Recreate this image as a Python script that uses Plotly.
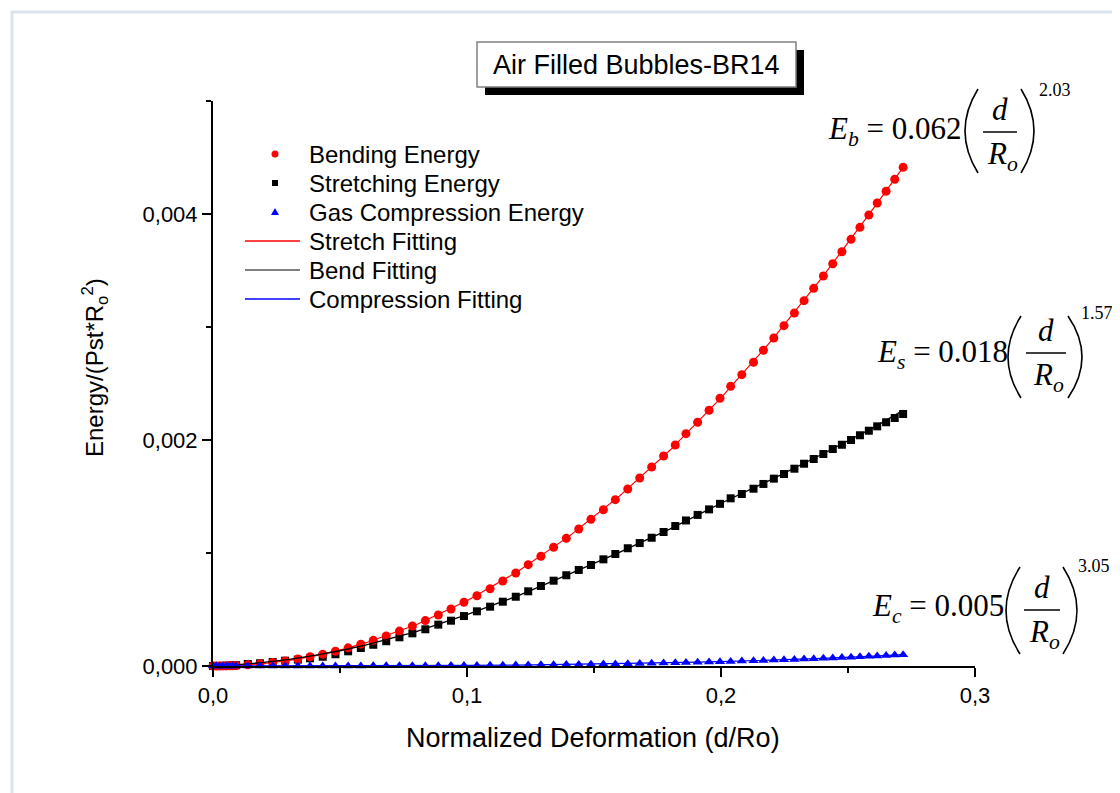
import plotly.graph_objects as go

# ---------------- data ----------------
deformation = [0.0, 0.0013, 0.0026, 0.0039, 0.0052, 0.0065, 0.0078, 0.0091,
               0.0137, 0.0185, 0.0235, 0.0284, 0.0334, 0.0382, 0.0432, 0.0482, 0.0532, 0.0582,
               0.0631, 0.0682, 0.0734, 0.0785, 0.0836, 0.0887, 0.0937,
               0.0988, 0.1039, 0.1091, 0.1141, 0.1192, 0.1241, 0.1291, 0.1341, 0.1391, 0.1440,
               0.1488, 0.1537, 0.1584, 0.1633, 0.1680, 0.1727, 0.1774,
               0.1820, 0.1862, 0.1908, 0.1953, 0.1996, 0.2038, 0.2082, 0.2128, 0.2167, 0.2208,
               0.2248, 0.2289, 0.2327, 0.2365, 0.2403, 0.2440, 0.2476, 0.2512, 0.2547, 0.2582,
               0.2615, 0.2650, 0.2684, 0.2717]

bending_energy = [0.0, 0.0, 0.0, 1e-6, 1e-6, 2e-6, 3e-6, 4e-6,
                  1.0e-5, 1.9e-5, 3.1e-5, 4.5e-5, 6.2e-5, 8.2e-5, 1.05e-4, 1.31e-4, 1.61e-4, 1.93e-4,
                  2.27e-4, 2.66e-4, 3.09e-4, 3.54e-4, 4.02e-4, 4.51e-4, 5.04e-4,
                  5.64e-4, 6.22e-4, 6.84e-4, 7.52e-4, 8.23e-4, 8.97e-4, 9.71e-4, 1.051e-3, 1.130e-3, 1.212e-3,
                  1.298e-3, 1.383e-3, 1.472e-3, 1.566e-3, 1.664e-3, 1.761e-3, 1.858e-3,
                  1.956e-3, 2.056e-3, 2.157e-3, 2.263e-3, 2.369e-3, 2.475e-3, 2.578e-3, 2.688e-3, 2.794e-3, 2.903e-3,
                  3.012e-3, 3.124e-3, 3.233e-3, 3.342e-3, 3.451e-3, 3.560e-3, 3.666e-3, 3.776e-3, 3.882e-3, 3.991e-3,
                  4.097e-3, 4.201e-3, 4.307e-3, 4.413e-3]

stretching_energy = [0.0, 0.0, 0.0, 1e-6, 2e-6, 3e-6, 5e-6, 7e-6,
                     1.8e-5, 2.4e-5, 3.5e-5, 4.7e-5, 5.6e-5, 6.8e-5, 8.2e-5, 1.04e-4, 1.30e-4, 1.59e-4,
                     1.88e-4, 2.19e-4, 2.54e-4, 2.89e-4, 3.25e-4, 3.66e-4, 4.01e-4,
                     4.42e-4, 4.84e-4, 5.25e-4, 5.69e-4, 6.13e-4, 6.61e-4, 7.08e-4, 7.55e-4, 8.03e-4, 8.50e-4,
                     8.94e-4, 9.44e-4, 9.91e-4, 1.042e-3, 1.088e-3, 1.135e-3, 1.186e-3,
                     1.239e-3, 1.288e-3, 1.337e-3, 1.386e-3, 1.435e-3, 1.484e-3, 1.522e-3, 1.569e-3, 1.611e-3, 1.658e-3,
                     1.699e-3, 1.746e-3, 1.790e-3, 1.832e-3, 1.876e-3, 1.920e-3, 1.958e-3, 2.000e-3, 2.042e-3, 2.082e-3,
                     2.121e-3, 2.157e-3, 2.195e-3, 2.230e-3]

gas_compression_energy = [0.0, 0.0, 0.0, 0.0, 0.0, 0.0, 0.0, 0.0,
                          0.0, 0.0, 1e-7, 1e-7, 2e-7, 2e-7, 3e-7, 5e-7, 7e-7, 1.0e-6,
                          1.2e-6, 1.5e-6, 1.9e-6, 2.3e-6, 2.8e-6, 3.3e-6, 3.9e-6,
                          4.6e-6, 5.3e-6, 6.1e-6, 7.0e-6, 8.0e-6, 9.0e-6, 1.01e-5, 1.13e-5, 1.26e-5, 1.40e-5,
                          1.55e-5, 1.70e-5, 1.87e-5, 2.05e-5, 2.24e-5, 2.44e-5, 2.65e-5,
                          2.87e-5, 3.08e-5, 3.32e-5, 3.57e-5, 3.82e-5, 4.07e-5, 4.35e-5, 4.66e-5, 4.93e-5, 5.22e-5,
                          5.52e-5, 5.84e-5, 6.15e-5, 6.47e-5, 6.80e-5, 7.14e-5, 7.48e-5, 7.83e-5, 8.18e-5, 8.55e-5,
                          8.90e-5, 9.28e-5, 9.67e-5, 1.005e-4]

fit_x = [0.0, 0.01, 0.02, 0.03, 0.04, 0.05, 0.06, 0.08, 0.10, 0.12, 0.14, 0.16, 0.18, 0.20, 0.22, 0.24, 0.26, 0.2717]
stretch_fit = [0.0, 5.5e-6, 2.2e-5, 5.0e-5, 9.0e-5, 1.41e-4, 2.04e-4, 3.65e-4, 5.77e-4, 8.36e-4, 1.145e-3,
               1.503e-3, 1.911e-3, 2.372e-3, 2.883e-3, 3.443e-3, 4.05e-3, 4.413e-3]
bend_fit = [0.0, 1.2e-5, 3.2e-5, 5.8e-5, 9.5e-5, 1.35e-4, 1.85e-4, 3.05e-4, 4.55e-4, 6.2e-4, 8.1e-4,
            1.006e-3, 1.214e-3, 1.44e-3, 1.652e-3, 1.876e-3, 2.11e-3, 2.262e-3]
compression_fit = [0.0, 0.0, 0.0, 0.0, 0.0, 1e-6, 1e-6, 2e-6, 5e-6, 8e-6, 1.4e-5, 2.1e-5, 3.0e-5,
                   3.9e-5, 5.1e-5, 6.7e-5, 8.7e-5, 1.005e-4]

x_ticks = [0.0, 0.1, 0.2, 0.3]
y_ticks = [0.0, 0.002, 0.004]

legend_labels = ["Bending Energy", "Stretching Energy", "Gas Compression Energy",
                 "Stretch Fitting", "Bend Fitting", "Compression Fitting"]

# ---------------- layout helpers (screen pixel -> paper) ----------------
OFF = 8                      # page body margin of the browser
W, H = 1112, 785             # figure size (reaches the 1120x793 window edge after the body margin)
L, R, T, B = 213, 975, 101, 666   # plot area in screen pixels


def px(x):
    return (x - L) / (R - L)


def py(y):
    return (B - y) / (B - T)


SANS = "Liberation Sans, Arial, sans-serif"
SERIF = "Liberation Serif, Times New Roman, serif"

RED, BLACK, BLUE = "#ff0000", "#000000", "#0000ff"

fig = go.Figure()

fig.add_trace(go.Scatter(x=deformation, y=stretching_energy, mode="markers", name=legend_labels[1],
                         marker=dict(symbol="square", size=8, color=BLACK), cliponaxis=False))
fig.add_trace(go.Scatter(x=deformation, y=bending_energy, mode="markers", name=legend_labels[0],
                         marker=dict(symbol="circle", size=9, color=RED), cliponaxis=False))
fig.add_trace(go.Scatter(x=fit_x, y=stretch_fit, mode="lines", name=legend_labels[3],
                         line=dict(color=RED, width=1.2), cliponaxis=False))
fig.add_trace(go.Scatter(x=fit_x, y=bend_fit, mode="lines", name=legend_labels[4],
                         line=dict(color=BLACK, width=1.3), cliponaxis=False))
fig.add_trace(go.Scatter(x=deformation, y=gas_compression_energy, mode="markers", name=legend_labels[2],
                         marker=dict(symbol="triangle-up", size=9, color=BLUE), cliponaxis=False))
fig.add_trace(go.Scatter(x=fit_x, y=compression_fit, mode="lines", name=legend_labels[5],
                         line=dict(color=BLUE, width=1.2), cliponaxis=False))

shapes = []
annotations = []

# page frame
shapes.append(dict(type="rect", xref="paper", yref="paper", x0=px(12), y0=py(12), x1=px(1140), y1=py(820),
                   line=dict(color="#dbe3ef", width=3), fillcolor="rgba(0,0,0,0)", layer="below"))
# title box with shadow
shapes.append(dict(type="rect", xref="paper", yref="paper", x0=px(485), y0=py(95), x1=px(804), y1=py(50),
                   line=dict(width=0), fillcolor="black"))
shapes.append(dict(type="rect", xref="paper", yref="paper", x0=px(477), y0=py(87), x1=px(796), y1=py(42),
                   line=dict(color="#808080", width=1.5), fillcolor="white"))

# ---------------- legend (drawn box-free, like the original) ----------------
leg_rows = [154, 183, 212, 241, 270, 299]
mx = 275
# circle
shapes.append(dict(type="circle", xref="paper", yref="paper", x0=px(mx - 3.5), x1=px(mx + 3.5),
                   y0=py(leg_rows[0] + 3.5), y1=py(leg_rows[0] - 3.5), fillcolor=RED, line=dict(width=0)))
# square
shapes.append(dict(type="rect", xref="paper", yref="paper", x0=px(mx - 3), x1=px(mx + 3),
                   y0=py(leg_rows[1] + 3), y1=py(leg_rows[1] - 3), fillcolor=BLACK, line=dict(width=0)))
# triangle
yt = leg_rows[2]
shapes.append(dict(type="path", xref="paper", yref="paper",
                   path="M {:.5f},{:.5f} L {:.5f},{:.5f} L {:.5f},{:.5f} Z".format(
                       px(mx - 4), py(yt + 3), px(mx + 4), py(yt + 3), px(mx), py(yt - 4)),
                   fillcolor=BLUE, line=dict(width=0)))
for row, col in zip(leg_rows[3:], [RED, "#555555", BLUE]):
    shapes.append(dict(type="line", xref="paper", yref="paper", x0=px(245), x1=px(300), y0=py(row), y1=py(row),
                       line=dict(color=col, width=1.3)))
for row, lab in zip(leg_rows, legend_labels):
    annotations.append(dict(text=lab, x=px(307), y=py(row), xref="paper", yref="paper", xanchor="left",
                            yanchor="middle", showarrow=False, font=dict(family=SANS, size=24, color="black")))


# ---------------- equations ----------------
def paren(xt, xm, yt, yb):
    cx = 2 * xm - xt
    ym = (yt + yb) / 2
    path = "M {:.5f},{:.5f} Q {:.5f},{:.5f} {:.5f},{:.5f}".format(px(xt), py(yt), px(cx), py(ym), px(xt), py(yb))
    return dict(type="path", xref="paper", yref="paper", path=path, line=dict(color="black", width=1.6))


def equation(sym, coef, exp, xl, yc, pl_top, pl_mid, pr_top, pr_mid, ptop, pbot, bar0, bar1, ybar, xexp, yexp):
    annotations.append(dict(text="<i>E</i><sub><i>" + sym + "</i></sub> = " + coef, x=px(xl), y=py(yc),
                            xref="paper", yref="paper", xanchor="left", yanchor="middle", showarrow=False,
                            font=dict(family=SERIF, size=31, color="black")))
    shapes.append(paren(pl_top, pl_mid, ptop, pbot))
    shapes.append(paren(pr_top, pr_mid, ptop, pbot))
    shapes.append(dict(type="line", xref="paper", yref="paper", x0=px(bar0), x1=px(bar1), y0=py(ybar), y1=py(ybar),
                       line=dict(color="black", width=1.3)))
    xc = (bar0 + bar1) / 2
    annotations.append(dict(text="<i>d</i>", x=px(xc), y=py(ybar - 3), xref="paper", yref="paper",
                            xanchor="center", yanchor="bottom", showarrow=False,
                            font=dict(family=SERIF, size=31, color="black")))
    annotations.append(dict(text="<i>R</i><sub><i>o</i></sub>", x=px(xc + 2), y=py(ybar + 2), xref="paper",
                            yref="paper", xanchor="center", yanchor="top", showarrow=False,
                            font=dict(family=SERIF, size=31, color="black")))
    annotations.append(dict(text=exp, x=px(xexp), y=py(yexp), xref="paper", yref="paper",
                            xanchor="center", yanchor="middle", showarrow=False,
                            font=dict(family=SERIF, size=18, color="black")))


equation("b", "0.062", "2.03", 826, 131, 978, 965, 1021, 1034, 89, 173, 983, 1017, 132, 1055, 90)
equation("s", "0.018", "1.57", 875, 354, 1021, 1008, 1068, 1082, 316, 398, 1026, 1066, 353, 1097, 313)
equation("c", "0.005", "3.05", 870, 608, 1020, 1006, 1063, 1077, 567, 654, 1024, 1060, 610, 1094, 566)

# title
annotations.append(dict(text="Air Filled Bubbles-BR14", x=px(636), y=py(65), xref="paper", yref="paper",
                        xanchor="center", yanchor="middle", showarrow=False,
                        font=dict(family=SANS, size=27, color="black")))
# axis titles
annotations.append(dict(text="Normalized Deformation (d/Ro)", x=px(593), y=py(738), xref="paper", yref="paper",
                        xanchor="center", yanchor="middle", showarrow=False,
                        font=dict(family=SANS, size=27, color="black")))
annotations.append(dict(text="Energy/(Pst*R<sub>o</sub><sup>2</sup>)", x=px(95), y=py(367), xref="paper",
                        yref="paper", xanchor="center", yanchor="middle", textangle=-90, showarrow=False,
                        font=dict(family=SANS, size=24, color="black")))

fig.update_layout(
    width=W, height=H,
    margin=dict(l=L - OFF, r=W - (R - OFF), t=T - OFF, b=H - (B - OFF), pad=0),
    paper_bgcolor="white", plot_bgcolor="white",
    separators=", ",
    showlegend=False,
    shapes=shapes,
    annotations=annotations,
    font=dict(family=SANS, color="black"),
)

fig.update_xaxes(range=[0, 0.3], tickvals=x_ticks, tickformat=".1f", showgrid=False, zeroline=False,
                 showline=True, linecolor="black", linewidth=2, ticks="outside", ticklen=9, tickwidth=2,
                 tickcolor="black", tickfont=dict(family=SANS, size=22, color="black"),
                 minor=dict(ticks="outside", ticklen=5, tickwidth=2, tickcolor="black", dtick=0.05, showgrid=False))
fig.update_yaxes(range=[0, 0.005], tickvals=y_ticks, tickformat=".3f", showgrid=False, zeroline=False,
                 showline=True, linecolor="black", linewidth=2, ticks="outside", ticklen=9, tickwidth=2,
                 tickcolor="black", tickfont=dict(family=SANS, size=22, color="black"),
                 minor=dict(ticks="outside", ticklen=5, tickwidth=2, tickcolor="black", dtick=0.001, showgrid=False))

fig.write_html("out.html")
